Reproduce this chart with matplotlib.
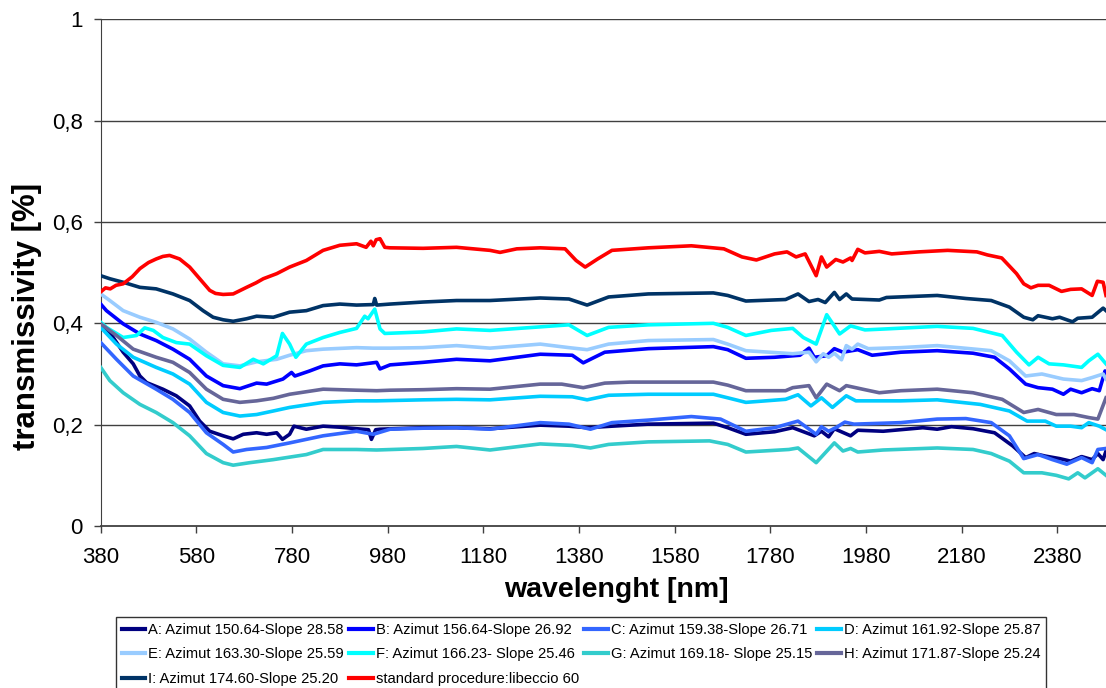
import matplotlib
matplotlib.use("Agg")
import matplotlib.pyplot as plt

plt.rcParams['font.family'] = ['Liberation Sans', 'DejaVu Sans']

# ---------------- data ----------------
wl_A = [380, 399, 427, 448, 462, 476, 510, 538, 566, 587, 608, 636, 657, 678, 706, 727, 748, 760, 775, 784,
        810, 845, 880, 915, 940, 946, 955, 964, 1054, 1124, 1194, 1299, 1359, 1397, 1449, 1525, 1661, 1691,
        1729, 1789, 1827, 1872, 1887, 1902, 1914, 1948, 1963, 2016, 2099, 2129, 2159, 2204, 2249, 2287, 2314,
        2332, 2355, 2385, 2408, 2431, 2453, 2465, 2476, 2482]
val_A = [0.399, 0.382, 0.343, 0.320, 0.296, 0.283, 0.270, 0.257, 0.237, 0.207, 0.187, 0.178, 0.172, 0.181,
         0.184, 0.181, 0.184, 0.171, 0.181, 0.197, 0.191, 0.197, 0.195, 0.192, 0.190, 0.171, 0.190, 0.191,
         0.194, 0.194, 0.192, 0.199, 0.197, 0.194, 0.197, 0.201, 0.203, 0.194, 0.181, 0.186, 0.194, 0.178,
         0.187, 0.176, 0.192, 0.178, 0.189, 0.187, 0.194, 0.191, 0.196, 0.192, 0.184, 0.158, 0.135, 0.143,
         0.138, 0.133, 0.128, 0.137, 0.131, 0.143, 0.131, 0.148]

wl_B = [380, 392, 427, 462, 496, 531, 566, 601, 636, 671, 706, 727, 761, 779, 786, 817, 845, 880, 915, 957,
        964, 985, 1054, 1124, 1194, 1299, 1366, 1389, 1434, 1525, 1661, 1691, 1729, 1789, 1842, 1861, 1872,
        1898, 1914, 1932, 1963, 1993, 2053, 2129, 2204, 2249, 2280, 2314, 2340, 2370, 2393, 2408, 2431, 2453,
        2468, 2480, 2482]
val_B = [0.438, 0.425, 0.399, 0.379, 0.366, 0.349, 0.329, 0.296, 0.277, 0.271, 0.282, 0.280, 0.290, 0.303,
         0.296, 0.306, 0.316, 0.320, 0.318, 0.323, 0.310, 0.318, 0.323, 0.329, 0.326, 0.339, 0.337, 0.322,
         0.343, 0.350, 0.354, 0.348, 0.331, 0.333, 0.337, 0.351, 0.333, 0.336, 0.350, 0.343, 0.348, 0.337,
         0.343, 0.346, 0.341, 0.333, 0.310, 0.280, 0.273, 0.270, 0.260, 0.270, 0.263, 0.271, 0.267, 0.306,
         0.300]

wl_C = [380, 413, 448, 496, 531, 566, 601, 636, 657, 685, 727, 775, 845, 915, 950, 985, 1054, 1124, 1194,
        1299, 1359, 1404, 1449, 1525, 1615, 1676, 1729, 1789, 1838, 1876, 1887, 1902, 1917, 1936, 1955, 2053,
        2129, 2189, 2242, 2280, 2310, 2340, 2370, 2400, 2431, 2453, 2465, 2482]
val_C = [0.362, 0.329, 0.296, 0.270, 0.250, 0.224, 0.184, 0.161, 0.146, 0.151, 0.155, 0.164, 0.178, 0.187,
         0.181, 0.191, 0.193, 0.194, 0.191, 0.204, 0.201, 0.191, 0.204, 0.209, 0.216, 0.211, 0.187, 0.194,
         0.207, 0.181, 0.196, 0.187, 0.194, 0.205, 0.201, 0.204, 0.211, 0.212, 0.204, 0.178, 0.133, 0.141,
         0.131, 0.122, 0.135, 0.125, 0.151, 0.153]

wl_D = [380, 413, 448, 496, 531, 566, 601, 636, 671, 706, 741, 775, 845, 915, 957, 1054, 1124, 1194, 1299,
        1366, 1397, 1442, 1525, 1661, 1691, 1729, 1812, 1838, 1865, 1887, 1910, 1939, 1959, 2053, 2129, 2219,
        2280, 2317, 2355, 2378, 2408, 2431, 2446, 2468, 2482]
val_D = [0.392, 0.359, 0.333, 0.313, 0.300, 0.280, 0.244, 0.224, 0.217, 0.220, 0.227, 0.234, 0.244, 0.247,
         0.247, 0.249, 0.250, 0.249, 0.256, 0.255, 0.249, 0.258, 0.260, 0.260, 0.253, 0.244, 0.250, 0.259,
         0.237, 0.253, 0.234, 0.257, 0.247, 0.247, 0.249, 0.240, 0.227, 0.207, 0.207, 0.197, 0.197, 0.194,
         0.204, 0.197, 0.190]

wl_E = [380, 399, 427, 462, 496, 531, 566, 601, 636, 671, 706, 748, 775, 810, 845, 915, 950, 985, 1054, 1124,
        1194, 1299, 1359, 1397, 1442, 1525, 1661, 1691, 1729, 1827, 1861, 1876, 1891, 1902, 1914, 1929, 1939,
        1951, 1963, 1985, 2053, 2129, 2242, 2280, 2314, 2348, 2393, 2431, 2453, 2476, 2482]
val_E = [0.458, 0.445, 0.425, 0.412, 0.402, 0.389, 0.369, 0.343, 0.320, 0.316, 0.324, 0.329, 0.337, 0.346,
         0.349, 0.352, 0.351, 0.351, 0.352, 0.356, 0.351, 0.359, 0.352, 0.348, 0.359, 0.366, 0.368, 0.359,
         0.346, 0.340, 0.343, 0.324, 0.340, 0.333, 0.341, 0.328, 0.356, 0.349, 0.359, 0.350, 0.352, 0.356,
         0.346, 0.326, 0.296, 0.300, 0.290, 0.287, 0.293, 0.300, 0.290]

wl_F = [380, 392, 427, 455, 472, 490, 510, 538, 566, 601, 636, 671, 699, 720, 748, 760, 775, 788, 810, 845,
        880, 915, 932, 939, 953, 964, 974, 1054, 1124, 1194, 1299, 1359, 1397, 1442, 1525, 1661, 1691, 1729,
        1782, 1827, 1849, 1876, 1898, 1925, 1948, 1978, 2023, 2129, 2204, 2265, 2295, 2321, 2340, 2363, 2393,
        2431, 2446, 2465, 2482]
val_F = [0.402, 0.392, 0.372, 0.376, 0.391, 0.386, 0.372, 0.362, 0.359, 0.336, 0.317, 0.313, 0.329, 0.320,
         0.336, 0.380, 0.359, 0.333, 0.359, 0.372, 0.382, 0.390, 0.414, 0.409, 0.428, 0.389, 0.380, 0.383,
         0.389, 0.386, 0.393, 0.397, 0.376, 0.392, 0.397, 0.400, 0.392, 0.376, 0.386, 0.390, 0.372, 0.359,
         0.417, 0.379, 0.395, 0.387, 0.389, 0.394, 0.390, 0.376, 0.343, 0.318, 0.333, 0.320, 0.318, 0.313,
         0.326, 0.339, 0.320]

wl_G = [380, 399, 427, 462, 496, 531, 566, 601, 636, 657, 692, 741, 810, 845, 915, 957, 1054, 1124, 1194,
        1299, 1366, 1404, 1442, 1525, 1653, 1691, 1729, 1819, 1838, 1876, 1914, 1932, 1948, 1963, 2016, 2129,
        2204, 2242, 2280, 2310, 2348, 2378, 2404, 2423, 2438, 2465, 2482]
val_G = [0.313, 0.287, 0.263, 0.240, 0.224, 0.204, 0.178, 0.143, 0.125, 0.120, 0.125, 0.131, 0.141, 0.151,
         0.151, 0.150, 0.153, 0.157, 0.150, 0.162, 0.159, 0.154, 0.161, 0.166, 0.168, 0.161, 0.146, 0.151,
         0.154, 0.125, 0.164, 0.148, 0.153, 0.146, 0.150, 0.154, 0.151, 0.143, 0.128, 0.105, 0.105, 0.100,
         0.093, 0.105, 0.095, 0.113, 0.100]

wl_H = [380, 413, 448, 496, 531, 566, 601, 636, 671, 706, 741, 775, 845, 915, 957, 985, 1054, 1124, 1194,
        1299, 1344, 1389, 1434, 1487, 1661, 1691, 1729, 1812, 1827, 1861, 1876, 1898, 1925, 1939, 1978, 2008,
        2053, 2129, 2204, 2265, 2310, 2340, 2378, 2415, 2446, 2465, 2482]
val_H = [0.399, 0.376, 0.349, 0.333, 0.323, 0.303, 0.270, 0.250, 0.244, 0.247, 0.252, 0.260, 0.270, 0.268,
         0.267, 0.268, 0.269, 0.271, 0.270, 0.280, 0.280, 0.273, 0.282, 0.284, 0.284, 0.278, 0.267, 0.267,
         0.273, 0.277, 0.253, 0.280, 0.267, 0.277, 0.269, 0.263, 0.267, 0.270, 0.263, 0.250, 0.224, 0.230,
         0.220, 0.220, 0.214, 0.211, 0.253]

wl_I = [380, 399, 427, 462, 496, 531, 566, 594, 615, 636, 657, 685, 706, 741, 775, 810, 845, 880, 915, 950,
        953, 957, 985, 1054, 1124, 1194, 1299, 1359, 1397, 1442, 1525, 1661, 1691, 1729, 1812, 1838, 1861,
        1880, 1895, 1914, 1925, 1939, 1951, 2008, 2023, 2129, 2189, 2242, 2280, 2310, 2329, 2340, 2370, 2385,
        2412, 2423, 2453, 2476, 2482]
val_I = [0.494, 0.488, 0.481, 0.471, 0.468, 0.458, 0.445, 0.425, 0.412, 0.407, 0.404, 0.409, 0.414, 0.412,
         0.422, 0.425, 0.435, 0.438, 0.436, 0.437, 0.449, 0.436, 0.438, 0.442, 0.445, 0.445, 0.450, 0.448,
         0.436, 0.452, 0.458, 0.460, 0.455, 0.444, 0.447, 0.458, 0.443, 0.447, 0.441, 0.461, 0.447, 0.458,
         0.448, 0.446, 0.451, 0.455, 0.449, 0.445, 0.432, 0.412, 0.407, 0.415, 0.409, 0.412, 0.403, 0.410,
         0.412, 0.430, 0.425]

wl_STD = [380, 390, 400, 412, 427, 446, 462, 480, 496, 510, 524, 545, 566, 587, 608, 620, 636, 657, 685, 705,
          720, 748, 775, 810, 845, 880, 915, 935, 945, 950, 956, 964, 974, 985, 1054, 1124, 1194, 1215, 1250,
          1299, 1351, 1374, 1393, 1419, 1449, 1525, 1615, 1683, 1721, 1751, 1789, 1815, 1834, 1853, 1876, 1887,
          1898, 1917, 1932, 1948, 1951, 1963, 1978, 2008, 2034, 2091, 2151, 2212, 2234, 2264, 2279, 2295, 2310,
          2325, 2340, 2363, 2389, 2408, 2431, 2453, 2464, 2476, 2482]
val_STD = [0.462, 0.470, 0.468, 0.475, 0.478, 0.492, 0.508, 0.520, 0.527, 0.532, 0.534, 0.527, 0.511, 0.488,
           0.465, 0.459, 0.457, 0.458, 0.471, 0.480, 0.488, 0.498, 0.511, 0.524, 0.544, 0.554, 0.557, 0.550,
           0.562, 0.553, 0.565, 0.567, 0.550, 0.549, 0.548, 0.550, 0.544, 0.540, 0.547, 0.549, 0.547, 0.524,
           0.511, 0.527, 0.544, 0.549, 0.553, 0.547, 0.531, 0.525, 0.537, 0.541, 0.531, 0.537, 0.494, 0.531,
           0.511, 0.526, 0.521, 0.529, 0.524, 0.546, 0.539, 0.542, 0.537, 0.541, 0.544, 0.541, 0.535, 0.529,
           0.514, 0.498, 0.478, 0.470, 0.475, 0.475, 0.463, 0.467, 0.468, 0.455, 0.483, 0.481, 0.455]

series_labels = ["A: Azimut 150.64-Slope 28.58", "B: Azimut 156.64-Slope 26.92",
                 "C: Azimut 159.38-Slope 26.71", "D: Azimut 161.92-Slope 25.87",
                 "E: Azimut 163.30-Slope 25.59", "F: Azimut 166.23- Slope 25.46",
                 "G: Azimut 169.18- Slope 25.15", "H: Azimut 171.87-Slope 25.24",
                 "I: Azimut 174.60-Slope 25.20", "standard procedure:libeccio 60"]
series_colors = ["#000080", "#0000FF", "#3366FF", "#00CCFF", "#99CCFF",
                 "#00FFFF", "#33CCCC", "#666699", "#003366", "#FF0000"]
x_ticks = [380, 580, 780, 980, 1180, 1380, 1580, 1780, 1980, 2180, 2380]
y_ticks = [0, 0.2, 0.4, 0.6, 0.8, 1.0]
y_ticklabels = ["0", "0,2", "0,4", "0,6", "0,8", "1"]

# ---------------- figure ----------------
W, H = 1106, 688
fig = plt.figure(figsize=(W / 100, H / 100), dpi=100)
ax = fig.add_axes([100.7 / W, 1 - 526 / H, 1 - 100.7 / W, (526 - 19.3) / H])

wls = [wl_A, wl_B, wl_C, wl_D, wl_E, wl_F, wl_G, wl_H, wl_I, wl_STD]
vals = [val_A, val_B, val_C, val_D, val_E, val_F, val_G, val_H, val_I, val_STD]
handles = []
for w, v, lab, col in zip(wls, vals, series_labels, series_colors):
    ln, = ax.plot(w, v, color=col, lw=2.6, label=lab, solid_joinstyle='round', zorder=3)
    handles.append(ln)

ax.set_xlim(380, 2482)
ax.set_ylim(0, 1)
ax.set_xticks(x_ticks)
ax.set_xticklabels([str(t) for t in x_ticks])
ax.set_yticks(y_ticks)
ax.set_yticklabels(y_ticklabels)
ax.tick_params(axis='both', labelsize=16, direction='out', length=5, width=1, color='#404040')
ax.tick_params(axis='x', pad=10)
ax.tick_params(axis='y', pad=8)
for yv in y_ticks[1:]:
    ax.axhline(yv, color='#404040', lw=1, zorder=1)
for s in ['top', 'right']:
    ax.spines[s].set_visible(False)
ax.spines['left'].set_color('#404040')
ax.spines['bottom'].set_color('#404040')
ax.spines['bottom'].set_linewidth(1.3)

fig.text(616.7 / W, 1 - 597 / H, "wavelenght [nm]", fontsize=20.5, fontweight='bold',
         ha='center', va='baseline')
fig.text(27 / W, 1 - 316 / H, "transmissivity [%]", fontsize=22.5, fontweight='bold',
         ha='center', va='center', rotation=90)

order = [0, 4, 8, 1, 5, 9, 2, 6, 3, 7]
leg = fig.legend([handles[i] for i in order], [series_labels[i] for i in order],
                 loc='upper left', ncol=4, mode='expand',
                 bbox_to_anchor=(116 / W, 1 - 617.3 / H, (1046 - 116) / W, 0.0),
                 fontsize=10.6, frameon=True, fancybox=False, shadow=False,
                 handlelength=1.6, handletextpad=0.2, borderpad=0.38, labelspacing=0.71,
                 columnspacing=0.5, borderaxespad=0)
leg.get_frame().set_edgecolor('black')
leg.get_frame().set_linewidth(1.0)
for l in leg.get_lines():
    l.set_linewidth(3)

fig.savefig("out.png", dpi=100)
